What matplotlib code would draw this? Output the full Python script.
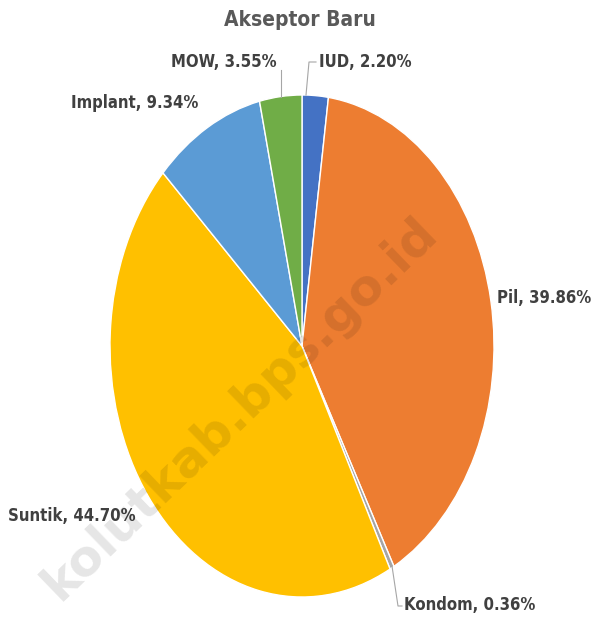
import numpy as np
import matplotlib.pyplot as plt

plt.rcParams['font.family'] = ['DejaVu Sans']

labels = ["IUD", "Pil", "Kondom", "Suntik", "Implant", "MOW"]
values = [2.20, 39.86, 0.36, 44.70, 9.34, 3.55]
colors = ["#4472C4", "#ED7D31", "#A5A5A5", "#FFC000", "#5B9BD5", "#70AD47"]

W, H = 601, 617
fig = plt.figure(figsize=(W / 100, H / 100), dpi=100)
# pie is stretched vertically in the original, so use a non-square axes
ax = fig.add_axes([110 / W, (H - 597) / H, 384 / W, 502 / H])
wedges, _ = ax.pie(values, colors=colors, startangle=90, counterclock=False,
                   radius=1, wedgeprops=dict(edgecolor="white", linewidth=1))
ax.set_aspect("auto")
ax.set_xlim(-1, 1)
ax.set_ylim(-1, 1)

txt = dict(fontsize=12, fontweight="bold", color="#404040", fontstretch="condensed")


def px(x, y):
    return (x / W, 1 - y / H)


# label positions in figure pixels
lab_pos = {
    "IUD": (319, 62, "left"),
    "Pil": (497, 298, "left"),
    "Kondom": (404, 605, "left"),
    "Suntik": (8, 516, "left"),
    "Implant": (71, 103, "left"),
    "MOW": (277, 62, "right"),
}
for lab, v in zip(labels, values):
    x, y, ha = lab_pos[lab]
    fig.text(*px(x, y), f"{lab}, {v:.2f}%", ha=ha, va="center", **txt)

# leader lines
line = dict(color="#A6A6A6", linewidth=0.8, transform=fig.transFigure)
for pts in [[(306, 95), (309, 62), (316, 62)],
            [(281, 97), (281, 70)],
            [(392, 566), (398, 606), (402, 606)]]:
    xs = [p[0] / W for p in pts]
    ys = [1 - p[1] / H for p in pts]
    fig.add_artist(plt.Line2D(xs, ys, **line))

fig.text(*px(300, 20), "Akseptor Baru", ha="center", va="center",
         fontsize=15, fontweight="bold", color="#595959", fontstretch="condensed")

# watermark
fig.text(*px(240, 408), "kolutkab.bps.go.id", ha="center", va="center",
         rotation=44, fontsize=36, fontweight="bold", color="black", alpha=0.10)

fig.savefig("out.png", dpi=100)
